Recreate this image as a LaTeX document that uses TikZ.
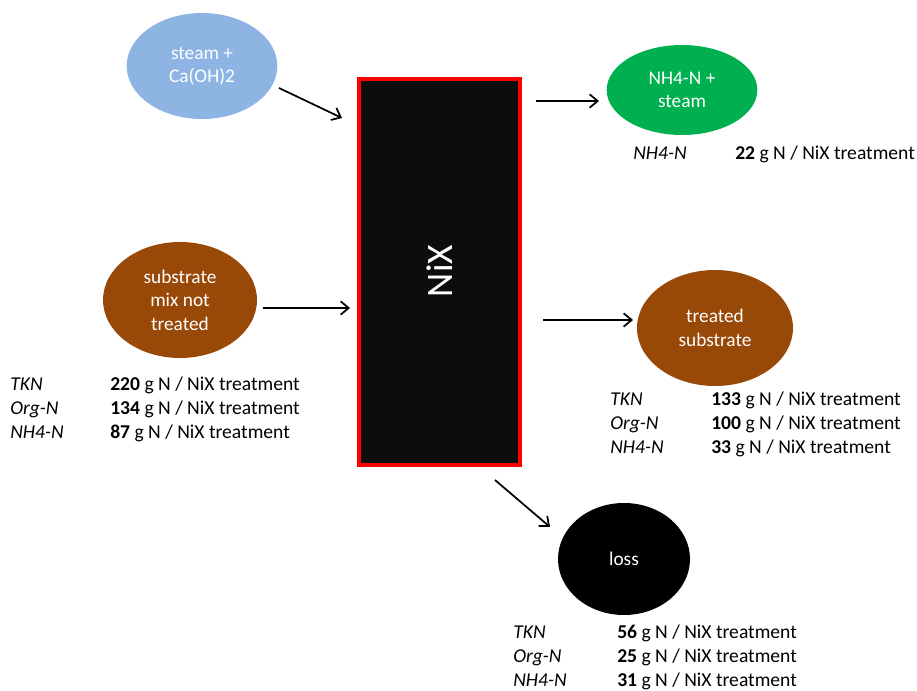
\documentclass[tikz,border=0pt]{standalone}
\usepackage{fontspec}
\setmainfont{Carlito}
\usetikzlibrary{arrows.meta, shapes.geometric}
\definecolor{BlueS}{HTML}{8EB4E3}
\definecolor{GreenS}{HTML}{00B050}
\definecolor{BrownS}{HTML}{984807}
\definecolor{BlackS}{HTML}{0D0D0D}
\definecolor{RedS}{HTML}{FF0000}
\tikzset{
  blob/.style={ellipse, inner sep=0pt, align=center, text=white, font=\fontsize{14.5}{17.6}\selectfont},
  feed/.style={fill=BlueS},
  vent/.style={fill=GreenS},
  sub/.style={fill=BrownS},
  lost/.style={fill=black},
  reactor/.style={draw=RedS, line width=2.4pt, fill=BlackS},
  arr/.style={-{Straight Barb[length=6pt, width=10pt, line width=1.3pt]}, line width=1.3pt},
  lbl/.style={anchor=base west, inner sep=0pt, font=\fontsize{14.7}{18}\selectfont\itshape},
  val/.style={anchor=base west, inner sep=0pt, font=\fontsize{14.7}{18}\selectfont}
}
\begin{document}
\begin{tikzpicture}[x=0.75pt, y=-0.75pt]
  \useasboundingbox (0,0) rectangle (917,691);
  % process block
  \draw[reactor] (359,79) rectangle (520,465);
  \node[rotate=90, text=white, font=\fontsize{28}{32}\selectfont] (nix) at (440,271) {NiX};
  \coordinate (nixin1) at (342,118);
  \coordinate (nixin2) at (350,308);
  \coordinate (nixout1) at (536,101);
  \coordinate (nixout2) at (543,320);
  \coordinate (nixout3) at (495,480);
  % streams
  \node[blob,feed,minimum width=113pt,minimum height=79.5pt] (steam) at (202,66) {steam +\\Ca(OH)2};
  \node[blob,sub,minimum width=115.5pt,minimum height=87pt] (mix) at (180,300) {substrate\\mix not\\treated};
  \node[blob,vent,minimum width=113pt,minimum height=67.5pt] (nh4) at (682,90) {NH4-N +\\steam};
  \node[blob,sub,minimum width=117pt,minimum height=87pt] (treated) at (715,328) {treated\\substrate};
  \node[blob,lost,minimum width=99pt,minimum height=84pt] (loss) at (624,559) {loss};
  \coordinate (steamout) at (279,88);
  \coordinate (mixout) at (263,308);
  \coordinate (nh4in) at (599,101);
  \coordinate (treatedin) at (633,320);
  \coordinate (lossin) at (550,527);
  % arrows
  \draw[arr] (steamout) -- (nixin1);
  \draw[arr] (mixout) -- (nixin2);
  \draw[arr] (nixout1) -- (nh4in);
  \draw[arr] (nixout2) -- (treatedin);
  \draw[arr] (nixout3) -- (lossin);
  % balances
  \node[lbl] (nh4k) at (633,159.5) {NH4-N};
  \node[val] (nh4v) at (735,159.5) {\textbf{22} g N / NiX treatment};
  \node[lbl] (mixa) at (10,390) {TKN};
  \node[val] (mixav) at (110,390) {\textbf{220} g N / NiX treatment};
  \node[lbl] (mixb) at (10,414) {Org-N};
  \node[val] (mixbv) at (110,414) {\textbf{134} g N / NiX treatment};
  \node[lbl] (mixc) at (10,438) {NH4-N};
  \node[val] (mixcv) at (110,438) {\textbf{87} g N / NiX treatment};
  \node[lbl] (trta) at (610,405.5) {TKN};
  \node[val] (trtav) at (711,405.5) {\textbf{133} g N / NiX treatment};
  \node[lbl] (trtb) at (610,429.5) {Org-N};
  \node[val] (trtbv) at (711,429.5) {\textbf{100} g N / NiX treatment};
  \node[lbl] (trtc) at (610,453.5) {NH4-N};
  \node[val] (trtcv) at (711,453.5) {\textbf{33} g N / NiX treatment};
  \node[lbl] (lsa) at (513,638.5) {TKN};
  \node[val] (lsav) at (617,638.5) {\textbf{56} g N / NiX treatment};
  \node[lbl] (lsb) at (513,662.5) {Org-N};
  \node[val] (lsbv) at (617,662.5) {\textbf{25} g N / NiX treatment};
  \node[lbl] (lsc) at (513,686.5) {NH4-N};
  \node[val] (lscv) at (617,686.5) {\textbf{31} g N / NiX treatment};
\end{tikzpicture}
\end{document}
